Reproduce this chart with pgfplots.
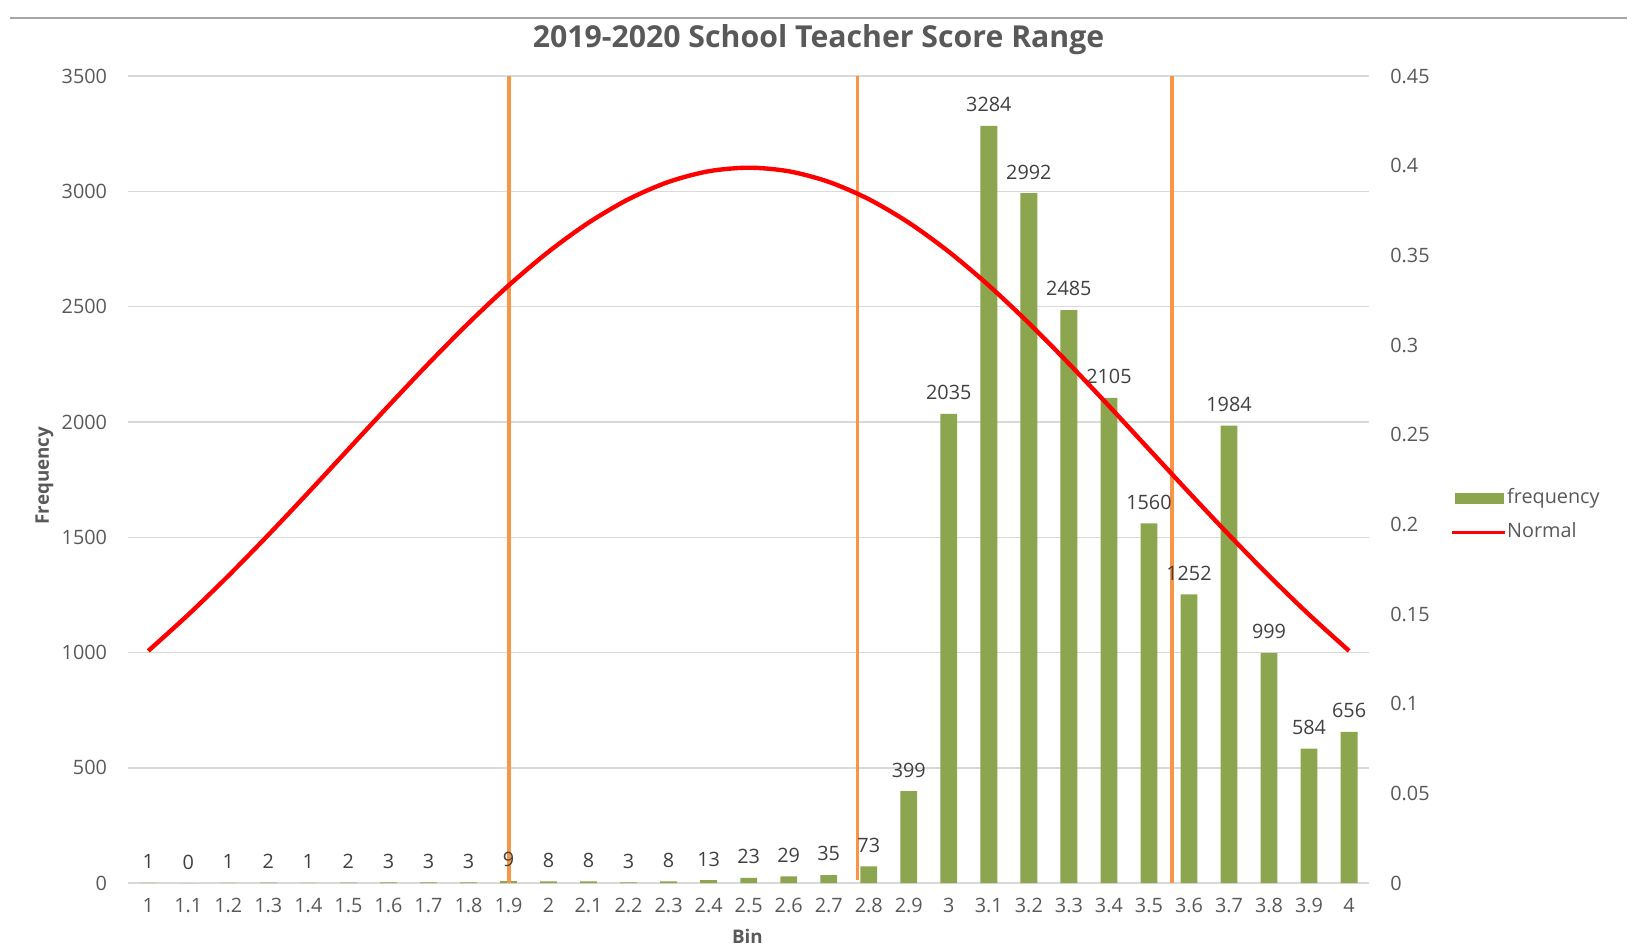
\documentclass[border=0pt]{standalone}
\usepackage{pgfplots}
\pgfplotsset{compat=1.18}
\usepackage{fontspec}
\setmainfont{Open Sans}

\definecolor{barc}{RGB}{139,166,79}
\definecolor{orng}{RGB}{247,150,70}
\definecolor{txt}{RGB}{89,89,89}
\definecolor{lbl}{RGB}{64,64,64}
\definecolor{gridc}{RGB}{217,217,217}

\begin{document}
\begin{tikzpicture}
\pgfplotsset{
  every axis/.append style={
    scale only axis, width=595pt, height=387pt,
    xmin=-0.5, xmax=30.5,
    tick style={draw=none},
    font=\fontsize{9.5}{11}\selectfont,
    ticklabel style={text=txt},
    /pgf/number format/1000 sep={},
  },
}
\begin{axis}[
  ymin=0, ymax=3500,
  ytick={0,500,1000,1500,2000,2500,3000,3500},
  yticklabels={0,500,1000,1500,2000,2500,3000,3500},
  yticklabel style={anchor=east, inner sep=0pt, xshift=-10pt},
  xtick={0,...,30},
  xticklabels={1,1.1,1.2,1.3,1.4,1.5,1.6,1.7,1.8,1.9,2,2.1,2.2,2.3,2.4,2.5,2.6,2.7,2.8,2.9,3,3.1,3.2,3.3,3.4,3.5,3.6,3.7,3.8,3.9,4},
  xticklabel style={anchor=center, inner sep=0pt, yshift=-10.5pt},
  axis x line*=bottom, axis y line*=left,
  x axis line style={draw=gridc, line width=1pt, -},
  y axis line style={draw=none},
  ymajorgrids, grid style={draw=gridc, line width=0.75pt},
  title={2019-2020 School Teacher Score Range},
  title style={at={(0.5563,1.0297)}, anchor=center, font=\fontsize{14.5}{16}\selectfont\bfseries, text=txt},
  xlabel={Bin},
  xlabel style={at={(0.499,-0.0659)}, anchor=center, font=\fontsize{9}{11}\selectfont\bfseries, text=txt},
  ylabel={Frequency},
  ylabel style={at={(-0.0675,0.505)}, anchor=center, font=\fontsize{9}{11}\selectfont\bfseries, text=txt},
]
% frequency bars
\addplot[ybar, bar width=0.42, fill=barc, draw=none,
  nodes near coords,
  nodes near coords style={font=\fontsize{9.5}{11}\selectfont, text=lbl, anchor=south, inner sep=0pt, yshift=6.5pt,
    /pgf/number format/assume math mode=true, /pgf/number format/1000 sep={}}]
coordinates {
  (0,1) (1,0) (2,1) (3,2) (4,1) (5,2) (6,3) (7,3) (8,3) (9,9)
  (10,8) (11,8) (12,3) (13,8) (14,13) (15,23) (16,29) (17,35) (18,73) (19,399)
  (20,2035) (21,3284) (22,2992) (23,2485) (24,2105) (25,1560) (26,1252) (27,1984) (28,999) (29,584)
  (30,656)
};
% orange markers
\addplot[orng, line width=1.8pt] coordinates {(9.02,0) (9.02,3500)};
\addplot[orng, line width=1.8pt] coordinates {(17.72,15) (17.72,3500)};
\addplot[orng, line width=1.8pt] coordinates {(25.57,0) (25.57,3500)};
\end{axis}

\begin{axis}[
  ymin=0, ymax=0.45,
  ytick={0,0.05,0.1,0.15,0.2,0.25,0.3,0.35,0.4,0.45},
  yticklabels={0,0.05,0.1,0.15,0.2,0.25,0.3,0.35,0.4,0.45},
  yticklabel style={anchor=west, inner sep=0pt, xshift=10pt},
  axis y line*=right, axis x line=none,
  y axis line style={draw=none},
  legend style={draw=none, fill=none, at={(1.0655,0.4554)}, anchor=west, inner sep=0pt,
    row sep=7.3pt, text=txt,
    nodes={inner sep=0pt, text height=7pt, text depth=2.2pt, font=\fontsize{9.5}{11}\selectfont},
    /tikz/every odd column/.style={column sep=0.5pt}},
  legend cell align=left,
]
\addlegendimage{legend image code/.code={\fill[barc] (1.5pt,-2.2pt) rectangle (24.5pt,2.2pt);}}
\addlegendentry{frequency}
% normal curve
\addplot[red, line width=2.1pt, smooth,
  legend image code/.code={\draw[red, line width=1.5pt] (0pt,0pt) -- (25pt,0pt);}]
coordinates {
  (0,0.12952) (1,0.14973) (2,0.17137) (3,0.19419) (4,0.21785) (5,0.24197)
  (6,0.26609) (7,0.28969) (8,0.31225) (9,0.33322) (10,0.35207) (11,0.36827)
  (12,0.38139) (13,0.39104) (14,0.39695) (15,0.39894) (16,0.39695) (17,0.39104)
  (18,0.38139) (19,0.36827) (20,0.35207) (21,0.33322) (22,0.31225) (23,0.28969)
  (24,0.26609) (25,0.24197) (26,0.21785) (27,0.19419) (28,0.17137) (29,0.14973)
  (30,0.12952)
};
\addlegendentry{Normal}
\end{axis}

\draw[black!35, line width=1pt] (-56.5pt,414.75pt) -- (718.5pt,414.75pt);
\pgfresetboundingbox
\useasboundingbox (-61.5pt,-30.5pt) rectangle (722.5pt,423.5pt);
\end{tikzpicture}
\end{document}
